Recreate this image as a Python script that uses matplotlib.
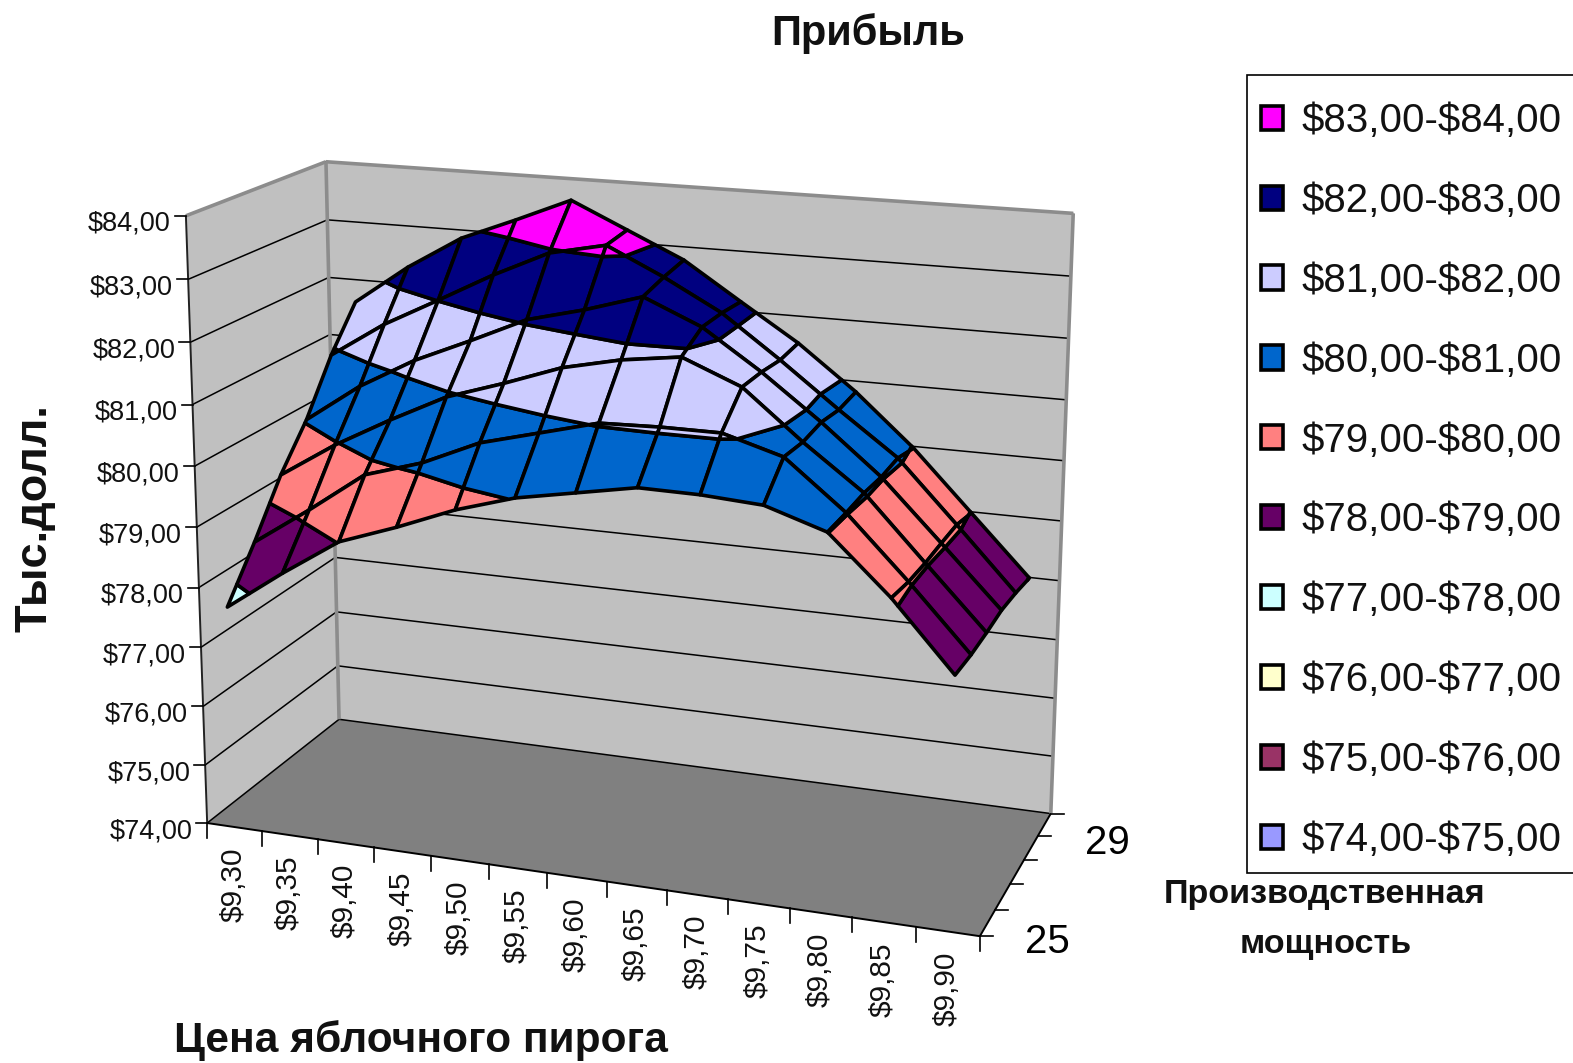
import numpy as np
import matplotlib
matplotlib.use('Agg')
import matplotlib.pyplot as plt
from matplotlib.patches import Polygon, Patch, Rectangle

plt.rcParams['font.family'] = ['Liberation Sans', 'DejaVu Sans']

prices = ['$9,30', '$9,35', '$9,40', '$9,45', '$9,50', '$9,55', '$9,60',
          '$9,65', '$9,70', '$9,75', '$9,80', '$9,85', '$9,90']
capacity_labels = ['25', '', '', '', '', '29']
profit_by_price = [
    [77.73, 78.51, 79.36, 80.04, 80.91, 81.61],
    [78.40, 79.15, 79.96, 80.70, 81.52, 82.29],
    [79.02, 79.83, 80.47, 81.22, 82.01, 82.86],
    [79.36, 80.12, 80.94, 81.63, 82.51, 83.24],
    [79.74, 80.54, 81.25, 82.06, 82.95, 83.64],
    [80.03, 80.79, 81.59, 82.30, 83.15, 83.21],
    [80.21, 81.04, 81.80, 82.59, 82.70, 82.78],
    [80.39, 81.07, 81.93, 82.18, 82.19, 82.16],
    [80.38, 81.07, 81.54, 81.54, 81.50, 81.55],
    [80.32, 80.79, 80.76, 80.82, 80.77, 80.82],
    [80.01, 80.02, 80.05, 80.03, 80.07, 79.97],
    [79.11, 79.05, 79.04, 79.06, 79.07, 78.98],
    [78.04, 78.02, 78.04, 78.08, 78.05, 77.99],
]
z_ticks = list(range(74, 85))
band_labels = [r'\$74,00-\$75,00', r'\$75,00-\$76,00', r'\$76,00-\$77,00', r'\$77,00-\$78,00',
               r'\$78,00-\$79,00', r'\$79,00-\$80,00', r'\$80,00-\$81,00', r'\$81,00-\$82,00',
               r'\$82,00-\$83,00', r'\$83,00-\$84,00']
band_colors = ['#9999FF', '#993366', '#FFFFCC', '#CCFFFF', '#660066',
               '#FF8080', '#0066CC', '#CCCCFF', '#000080', '#FF00FF']

Z = np.array(profit_by_price)
nx, ny = Z.shape

# Camera: maps the chart box (x, y, z in 0..1) onto the canvas
box_to_canvas = [((0, 0, 0), (207, 823)), ((0, 0, 1), (185, 217)), ((0, 1, 0), (339, 719)),
                 ((0, 1, 1), (327, 161)), ((1, 1, 0), (1050, 815)), ((1, 1, 1), (1073, 213)),
                 ((1, 0, 0), (981, 935))]
rows = []
for (a, b, c), (u, v) in box_to_canvas:
    h = [a, b, c, 1]
    rows.append(h + [0, 0, 0, 0] + [-u * t for t in h])
    rows.append([0, 0, 0, 0] + h + [-v * t for t in h])
P = np.linalg.svd(np.array(rows, float))[2][-1].reshape(3, 4)


def proj(x, y, z):
    """x: 0..nx across the price bins, y: 0..ny-1 across series, z: value axis."""
    h = np.array([x / nx, y / (ny - 1), (z - 74) / 10, 1.0])
    w = P @ h
    return w[0] / w[2], w[1] / w[2]


def clip(poly, lo, hi):
    def cut(pts, keep, bound):
        out = []
        for k in range(len(pts)):
            a, b = pts[k], pts[(k + 1) % len(pts)]
            if keep(a[2]):
                out.append(a)
            if keep(a[2]) != keep(b[2]):
                t = (bound - a[2]) / (b[2] - a[2])
                out.append(tuple(a[m] + t * (b[m] - a[m]) for m in range(3)))
        return out
    pts = cut(poly, lambda z: z >= lo, lo)
    if pts:
        pts = cut(pts, lambda z: z <= hi, hi)
    return pts


fig = plt.figure(figsize=(15.73, 10.63), dpi=100, facecolor='white')
ax = fig.add_axes([0, 0, 1, 1])
ax.set_xlim(0, 1573)
ax.set_ylim(1063, 0)
ax.axis('off')


def face(corners, color, z):
    ax.add_patch(Polygon([proj(*c) for c in corners], closed=True, fc=color, ec='none', zorder=z))


face([(0, 0, 74), (0, ny - 1, 74), (0, ny - 1, 84), (0, 0, 84)], '#C0C0C0', 1)
face([(0, ny - 1, 74), (nx, ny - 1, 74), (nx, ny - 1, 84), (0, ny - 1, 84)], '#C0C0C0', 1)
face([(0, 0, 74), (nx, 0, 74), (nx, ny - 1, 74), (0, ny - 1, 74)], '#808080', 1)


def seg(a, b, **kw):
    pa, pb = proj(*a), proj(*b)
    ax.plot([pa[0], pb[0]], [pa[1], pb[1]], solid_capstyle='butt', **kw)


for z in z_ticks:
    seg((0, 0, z), (0, ny - 1, z), color='black', lw=1.1, zorder=2)
    seg((0, ny - 1, z), (nx, ny - 1, z), color='black', lw=1.1, zorder=2)
for a, b in [((0, 0, 84), (0, ny - 1, 84)), ((0, ny - 1, 84), (nx, ny - 1, 84)),
             ((0, ny - 1, 74), (0, ny - 1, 84)), ((nx, ny - 1, 74), (nx, ny - 1, 84))]:
    seg(a, b, color='#8C8C8C', lw=2.6, zorder=3)

# Surface: back rows first, every cell split at the value bands
order = 10
for j in range(ny - 2, -1, -1):
    for i in range(nx - 1):
        cell = [(i + .5, j, Z[i, j]), (i + 1.5, j, Z[i + 1, j]),
                (i + 1.5, j + 1, Z[i + 1, j + 1]), (i + .5, j + 1, Z[i, j + 1])]
        for b, col in enumerate(band_colors):
            pts = clip(cell, 74 + b, 75 + b)
            if len(pts) >= 3:
                ax.add_patch(Polygon([proj(*p) for p in pts], closed=True, fc=col, ec='black',
                                     lw=2.6, joinstyle='round', zorder=order))
                order += 0.001

# Axes lines, ticks, labels
seg((0, 0, 74), (0, 0, 84), color='#222222', lw=1.4, zorder=5)
seg((0, 0, 74), (nx, 0, 74), color='black', lw=1.4, zorder=5)
seg((nx, 0, 74), (nx, ny - 1, 74), color='black', lw=1.4, zorder=5)

for z in z_ticks:
    px, py = proj(0, 0, z)
    ax.plot([px - 11, px], [py, py], color='black', lw=1.2, zorder=5)
    ax.text(px - 15, py + 8, f'${z},00', ha='right', va='center', fontsize=19.5, color='#111111')
for i in range(nx + 1):
    px, py = proj(i, 0, 74)
    ax.plot([px, px], [py, py + 15], color='black', lw=1.2, zorder=5)
for i, lab in enumerate(prices):
    px, py = proj(i + .5, 0, 74)
    ax.text(px - 1, py + 20, lab, rotation=90, ha='center', va='top', fontsize=21.5, color='#111111')
for j in range(ny):
    px, py = proj(nx, j, 74)
    ax.plot([px, px + 13], [py, py], color='black', lw=1.2, zorder=5)
offsets = {0: (45, 6), ny - 1: (34, 29)}
for j, lab in enumerate(capacity_labels):
    if lab:
        px, py = proj(nx, j, 74)
        ax.text(px + offsets[j][0], py + offsets[j][1], lab, ha='left', va='center',
                fontsize=29, color='black')

ax.text(868, 34, 'Прибыль', ha='center', va='center', fontsize=30, fontweight='bold', color='#111111')
ax.text(421, 1041, 'Цена яблочного пирога', ha='center', va='center', fontsize=30.5,
        fontweight='bold', color='#111111')
ax.text(35, 518, 'Тыс.долл.', rotation=90, ha='center', va='center', fontsize=32.5,
        fontweight='bold', color='#111111')
ax.text(1325, 894, 'Производственная', ha='center', va='center', fontsize=24.6, fontweight='bold', color='#111111')
ax.text(1326, 945, 'мощность', ha='center', va='center', fontsize=24.6, fontweight='bold', color='#111111')

ax.add_patch(Rectangle((1247, 75), 340, 798, fc='white', ec='black', lw=1.2, zorder=6))
handles = [Patch(fc=c, ec='black', lw=2.6, label=l) for c, l in zip(band_colors[::-1], band_labels[::-1])]
leg = ax.legend(handles=handles, loc='upper left', bbox_to_anchor=(1261 / 1573, 1 - 102 / 1063),
                borderaxespad=0, borderpad=0, fontsize=29, labelspacing=1.04,
                handlelength=0.55, handleheight=0.55, handletextpad=0.45, frameon=False)
leg.set_zorder(7)
for t in leg.get_texts():
    t.set_color('#111111')

fig.savefig('out.png', dpi=100, facecolor='white')
